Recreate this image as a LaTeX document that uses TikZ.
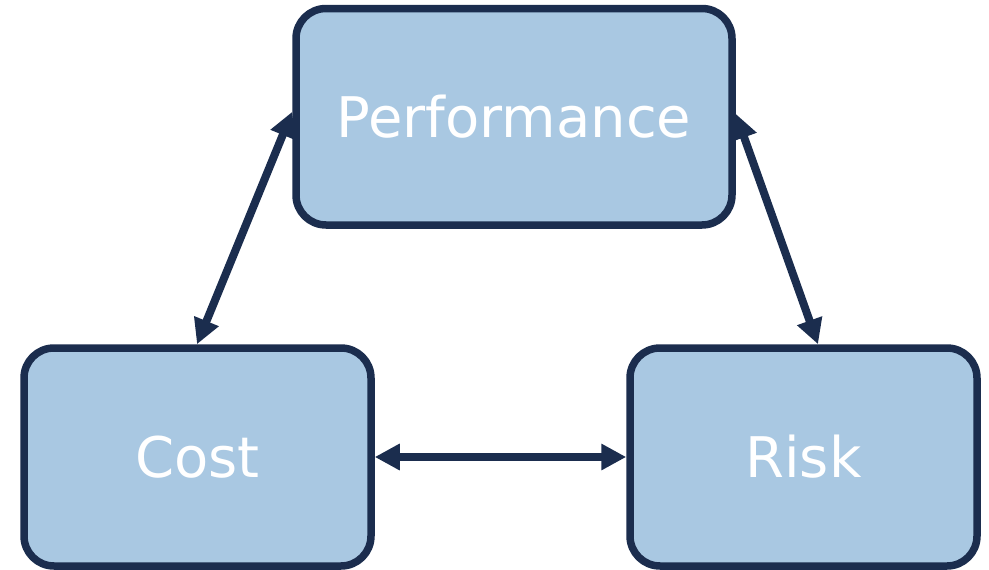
\documentclass[tikz,border=0pt]{standalone}
\usepackage{fontspec}
\setmainfont{DejaVu Sans}
\usetikzlibrary{arrows.meta}
\definecolor{boxfill}{HTML}{A9C8E2}
\definecolor{navy}{HTML}{1B2D4E}
\tikzset{
  box/.style={draw=navy, fill=boxfill, line width=7.5pt, rounded corners=30pt,
    text=white, font=\fontsize{56}{60}\selectfont, inner sep=0pt},
  arr/.style={draw=navy, line width=8pt, {Triangle[length=25pt,width=25pt]}-{Triangle[length=25pt,width=25pt]}}
}
\begin{document}
\begin{tikzpicture}[x=1pt,y=-1pt]
\useasboundingbox (0,0) rectangle (989,570);
\node[box, minimum width=436pt, minimum height=216.5pt] (perf) at (514,116.75) {Performance};
\node[box, minimum width=347pt, minimum height=218pt] (cost) at (197.5,457) {Cost};
\node[box, minimum width=347pt, minimum height=218pt] (risk) at (803.5,457) {Risk};
\draw[arr] ([yshift=5pt]perf.west) -- ([xshift=-0.5pt]cost.north);
\draw[arr] ([yshift=3pt]perf.east) -- ([xshift=14.5pt]risk.north);
\draw[arr] (cost.east) -- (risk.west);
\end{tikzpicture}
\end{document}
